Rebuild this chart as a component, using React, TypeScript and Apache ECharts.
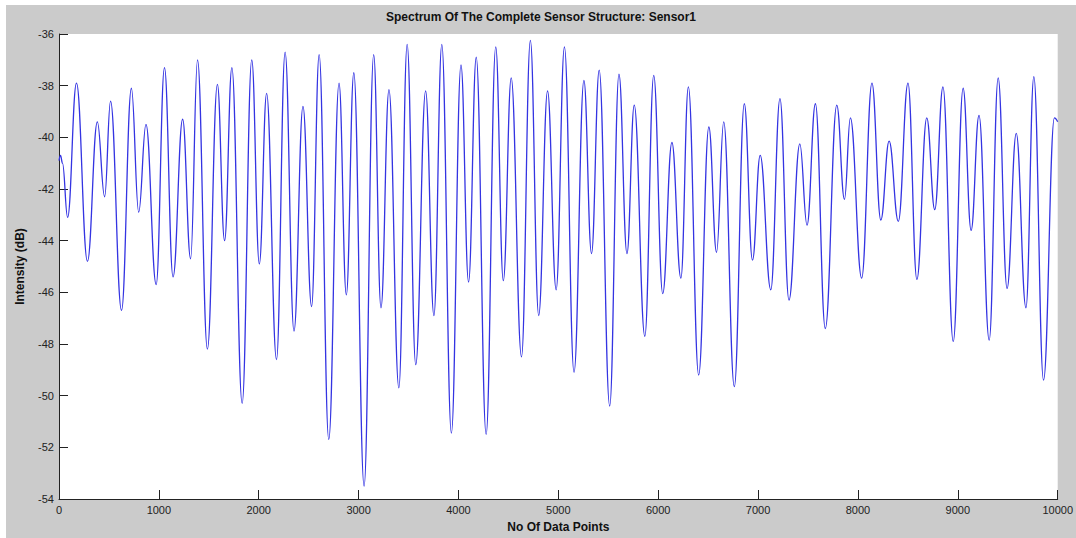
import React, { useEffect, useRef } from "react";
import * as echarts from "echarts";

// Sample index of each local extreme
const sampleIndex: number[] = [
  0, 15, 35, 86, 175, 285, 384, 457, 516, 626, 725, 798, 871, 973, 1056, 1142, 1238, 1318, 1387, 1486,
  1586, 1658, 1731, 1834, 1930, 2006, 2079, 2178, 2264, 2353, 2443, 2529, 2605, 2701, 2804, 2877, 2952,
  3055, 3151, 3224, 3304, 3403, 3486, 3572, 3671, 3754, 3833, 3929, 4025, 4101, 4178, 4277, 4373, 4449,
  4528, 4631, 4720, 4803, 4892, 4978, 5061, 5157, 5256, 5332, 5409, 5514, 5607, 5687, 5760, 5866, 5955,
  6045, 6137, 6227, 6302, 6405, 6507, 6584, 6656, 6762, 6862, 6944, 7021, 7127, 7219, 7309, 7418, 7490,
  7574, 7673, 7788, 7865, 7924, 8037, 8140, 8229, 8312, 8404, 8501, 8590, 8689, 8769, 8851, 8954, 9053,
  9133, 9212, 9314, 9404, 9493, 9585, 9682, 9761, 9858, 9967, 10000,
];

// Intensity (dB) at those samples
const intensity: number[] = [
  -40.9, -40.7, -41.0, -43.1, -37.9, -44.8, -39.4, -42.3, -38.6, -46.7, -38.1, -42.9, -39.5, -45.7, -37.3, -45.4, -39.3, -44.7, -37.0, -48.2,
  -37.95, -44.0, -37.3, -50.3, -37.0, -44.9, -38.3, -48.6, -36.7, -47.5, -38.8, -46.55, -36.8, -51.7, -37.9, -46.1, -37.5,
  -53.5, -36.8, -46.6, -38.15, -49.7, -36.4, -48.8, -38.2, -46.9, -36.4, -51.45, -37.2, -45.6, -36.9, -51.5, -36.5, -45.55,
  -37.7, -48.5, -36.25, -46.9, -38.2, -45.9, -36.5, -49.1, -37.8, -44.5, -37.4, -50.4, -37.55, -44.5, -38.75, -47.7, -37.6,
  -46.05, -40.2, -45.45, -38.05, -49.2, -39.6, -44.45, -39.4, -49.65, -38.7, -44.75, -40.7, -45.9, -38.5, -46.3, -40.25, -43.4,
  -38.7, -47.4, -38.75, -42.4, -39.25, -45.45, -37.9, -43.2, -40.15, -43.25, -37.9, -45.5, -39.25, -42.8, -38.05, -47.9, -38.1,
  -43.6, -39.15, -47.85, -37.7, -45.85, -39.85, -46.6, -37.65, -49.4, -39.25, -39.4,
];

const xTicks: number[] = [0, 1000, 2000, 3000, 4000, 5000, 6000, 7000, 8000, 9000, 10000];
const yTicks: number[] = [-54, -52, -50, -48, -46, -44, -42, -40, -38, -36];

const titleText = "Spectrum Of The Complete Sensor Structure: Sensor1";
const xName = "No Of Data Points";
const yName = "Intensity (dB)";

export default function App() {
  const ref = useRef<HTMLDivElement>(null);
  useEffect(() => {
    if (!ref.current) return;
    const chart = echarts.init(ref.current, undefined, { renderer: "svg" });
    const font = "'Liberation Sans', Arial, sans-serif";
    chart.setOption({
      animation: false,
      backgroundColor: "#cbcbcb",
      grid: {
        left: 47,
        right: 17,
        top: 29,
        bottom: 35,
        show: true,
        backgroundColor: "#ffffff",
        borderWidth: 0,
      },
      graphic: [
        {
          type: "text",
          x: 535,
          y: 12,
          style: {
            text: titleText,
            fill: "#111",
            font: `bold 12px ${font}`,
            textAlign: "center",
            textVerticalAlign: "middle",
          },
        },
      ],
      xAxis: {
        type: "value",
        min: xTicks[0],
        max: xTicks[xTicks.length - 1],
        interval: 1000,
        name: xName,
        nameLocation: "middle",
        nameGap: 22,
        nameTextStyle: { fontFamily: font, fontWeight: "bold", fontSize: 12, color: "#111" },
        axisLine: { show: true, lineStyle: { color: "#222", width: 1 } },
        axisTick: { show: true, inside: true, length: 9, lineStyle: { color: "#222" } },
        axisLabel: {
          color: "#222",
          fontFamily: font,
          fontSize: 11,
          margin: 5,
          formatter: (v: number) => String(v),
        },
        splitLine: { show: false },
      },
      yAxis: {
        type: "value",
        min: yTicks[0],
        max: yTicks[yTicks.length - 1],
        interval: 2,
        name: yName,
        nameLocation: "middle",
        nameGap: 33,
        nameTextStyle: { fontFamily: font, fontWeight: "bold", fontSize: 12, color: "#111" },
        axisLine: { show: true, lineStyle: { color: "#222", width: 1 } },
        axisTick: { show: true, inside: true, length: 9, lineStyle: { color: "#222" } },
        axisLabel: {
          color: "#222",
          fontFamily: font,
          fontSize: 11,
          margin: 5,
          formatter: (v: number) => String(v),
        },
        splitLine: { show: false },
      },
      series: [
        {
          type: "line",
          data: sampleIndex.map((x, i) => [x, intensity[i]]),
          smooth: 0.42,
          smoothMonotone: "x",
          showSymbol: false,
          symbol: "none",
          lineStyle: { color: "#3434e2", width: 1.3 },
        },
      ],
    });
    return () => chart.dispose();
  }, []);
  return (
    <div
      ref={ref}
      style={{ position: "fixed", left: 6, top: 5, width: 1070, height: 533 }}
    />
  );
}
